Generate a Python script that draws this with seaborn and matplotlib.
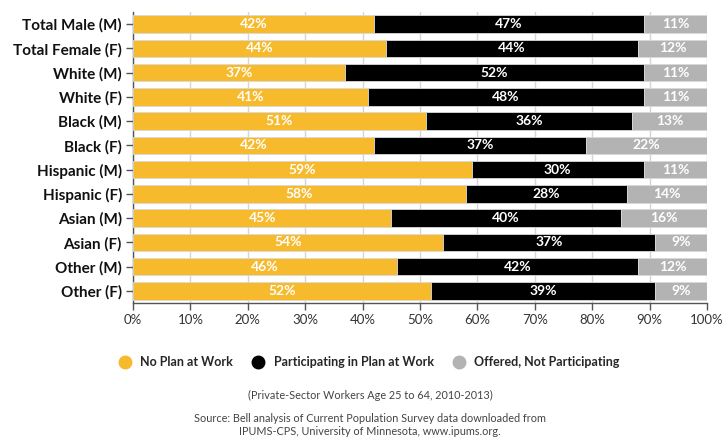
import numpy as np
import pandas as pd
import matplotlib.pyplot as plt
import seaborn as sns
from matplotlib.lines import Line2D

# Data
groups = ['Total Male (M)', 'Total Female (F)', 'White (M)', 'White (F)', 'Black (M)', 'Black (F)',
          'Hispanic (M)', 'Hispanic (F)', 'Asian (M)', 'Asian (F)', 'Other (M)', 'Other (F)']
no_plan = [42, 44, 37, 41, 51, 42, 59, 58, 45, 54, 46, 52]
participating = [47, 44, 52, 48, 36, 37, 30, 28, 40, 37, 42, 39]
offered_not = [11, 12, 11, 11, 13, 22, 11, 14, 16, 9, 12, 9]

series_names = ['No Plan at Work', 'Participating in Plan at Work', 'Offered, Not Participating']
colors = ['#F7BA2C', '#000000', '#B3B3B3']

sns.set_theme(style='white')
plt.rcParams['font.family'] = ['Lato', 'DejaVu Sans']

fig = plt.figure(figsize=(7.26, 4.37), dpi=100)
ax = fig.add_axes([133 / 726, 1 - 303 / 437, 574 / 726, 291 / 437])

ypos = np.arange(len(groups))
left = np.zeros(len(groups))
for vals, col in zip([no_plan, participating, offered_not], colors):
    vals = np.array(vals, dtype=float)
    df = pd.DataFrame({'group': groups, 'value': vals, 'left': left})
    ax.barh(df['group'], df['value'], left=df['left'], height=0.72, color=col,
            edgecolor='#D9D9D9', linewidth=0.6, zorder=3)
    for i, (v, l) in enumerate(zip(vals, left)):
        end = min(l + v, 100)
        ax.text((l + end) / 2, i, f'{int(v)}%', ha='center', va='center',
                color='white', fontsize=10, fontweight='bold', zorder=4)
    left = left + vals

ax.set_xlim(0, 100)
ax.set_ylim(len(groups) - 0.5, -0.5)
ax.set_xticks(range(0, 101, 10))
ax.set_xticklabels([f'{t}%' for t in range(0, 101, 10)], fontsize=9.5, color='#333333')
ax.set_yticks(ypos)
ax.set_yticklabels(groups, fontsize=11, fontweight='bold', color='#111111')
ax.xaxis.grid(True, color='#D5D5D5', linewidth=1, zorder=0)
ax.yaxis.grid(False)
for s in ['top', 'right']:
    ax.spines[s].set_visible(False)
for s in ['left', 'bottom']:
    ax.spines[s].set_color('#555555')
    ax.spines[s].set_linewidth(1)
ax.tick_params(axis='y', length=5, width=1, color='#555555', pad=3, left=True)
ax.tick_params(axis='x', length=5, width=1, color='#555555', pad=3, bottom=True)

handles = [Line2D([0], [0], marker='o', linestyle='none', markersize=9,
                  markerfacecolor=c, markeredgecolor=c) for c in colors]
fig.legend(handles, series_names, loc='center', bbox_to_anchor=(366 / 726, 1 - 362 / 437),
           ncol=3, frameon=False, handletextpad=0.25, columnspacing=1.0,
           prop={'size': 9, 'weight': 'bold'})

fig.text(370 / 726, 1 - 395 / 437, '(Private-Sector Workers Age 25 to 64, 2010-2013)',
         ha='center', va='center', fontsize=7.8, color='#444444')
fig.text(370 / 726, 1 - 425 / 437,
         'Source: Bell analysis of Current Population Survey data downloaded from\n'
         'IPUMS-CPS, University of Minnesota, www.ipums.org.',
         ha='center', va='center', fontsize=7.8, color='#444444', linespacing=1.3)

fig.savefig('out.png', dpi=100)
